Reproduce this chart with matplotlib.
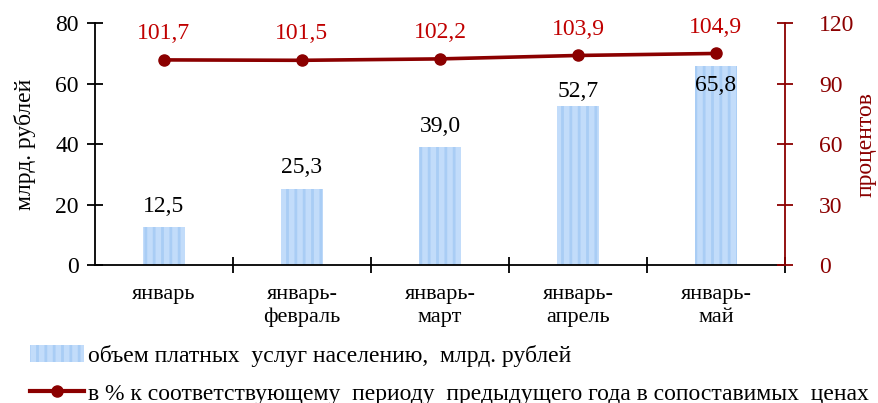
import numpy as np
import matplotlib.pyplot as plt
from matplotlib.lines import Line2D
from matplotlib.patches import Patch

plt.rcParams['font.family'] = ['Liberation Serif', 'DejaVu Serif']
plt.rcParams['hatch.linewidth'] = 2.0

# data
months = ["январь", "январь-\nфевраль", "январь-\nмарт", "январь-\nапрель", "январь-\nмай"]
volume = [12.5, 25.3, 39.0, 52.7, 65.8]
percent = [101.7, 101.5, 102.2, 103.9, 104.9]
volume_labels = ["12,5", "25,3", "39,0", "52,7", "65,8"]
percent_labels = ["101,7", "101,5", "102,2", "103,9", "104,9"]
volume_offsets = [15, 15, 15, 10, -14]   # label shift in points, as placed in the original

dark_red = '#8b0000'
label_red = '#c00000'
bar_blue = '#c2dcfa'
hatch_blue = '#a9cdf5'

fig = plt.figure(figsize=(8.79, 4.03), dpi=100)
ax = fig.add_axes([0.108, 0.342, 0.785, 0.601])
ax2 = ax.twinx()

x = np.arange(len(months))
bars = ax.bar(x, volume, width=0.31, color=bar_blue, edgecolor=hatch_blue,
              hatch='||', linewidth=0, zorder=2)

ax.set_xlim(-0.5, len(months) - 0.5)
ax.set_ylim(0, 80)
ax.set_yticks([0, 20, 40, 60, 80])
ax.set_ylabel("млрд. рублей", fontsize=17, labelpad=14)

ax.set_xticks(x + 0.5)
ax.set_xticklabels([])
ax.set_xticks(x, minor=True)
ax.set_xticklabels(months, minor=True, fontsize=16, linespacing=1.3)
ax.tick_params(axis='x', which='major', direction='inout', length=11, width=1.3)
ax.tick_params(axis='x', which='minor', length=0, pad=14)
ax.tick_params(axis='y', direction='inout', length=11, width=1.3, labelsize=17, pad=6)

for sp in ['top', 'right']:
    ax.spines[sp].set_visible(False)
ax.spines['left'].set_linewidth(1.3)
ax.spines['bottom'].set_linewidth(1.3)
ax.spines['bottom'].set_zorder(5)

for i, v in enumerate(volume):
    ax.annotate(volume_labels[i], (x[i], v), xytext=(0, volume_offsets[i]),
                textcoords='offset points', ha='center', va='center',
                fontsize=17, color='black', zorder=6)

ax2.plot(x, percent, color=dark_red, linewidth=2.6, marker='o', markersize=8, zorder=4)
ax2.set_ylim(0, 120)
ax2.set_yticks([0, 30, 60, 90, 120])
ax2.set_ylabel("процентов", fontsize=17, color=dark_red)
ax2.yaxis.set_label_coords(1.102, 0.5)
ax2.tick_params(axis='y', direction='inout', length=11, width=1.3, labelsize=17,
                colors=dark_red, pad=19)
for sp in ['top', 'left', 'bottom']:
    ax2.spines[sp].set_visible(False)
ax2.spines['right'].set_color(dark_red)
ax2.spines['right'].set_linewidth(1.3)

for i, p in enumerate(percent):
    ax2.annotate(percent_labels[i], (x[i], p), xytext=(0, 19), textcoords='offset points',
                 ha='center', va='center', fontsize=17, color=label_red)

handles = [Patch(facecolor=bar_blue, edgecolor=hatch_blue, hatch='||', linewidth=0),
           Line2D([0], [0], color=dark_red, linewidth=3, marker='o', markersize=8)]
labels = ["объем платных  услуг населению,  млрд. рублей",
          "в % к соответствующему  периоду  предыдущего года в сопоставимых  ценах"]
fig.legend(handles, labels, loc='upper left', bbox_to_anchor=(0.034, 0.145),
           frameon=False, fontsize=17, handlelength=2.3, handletextpad=0.15,
           labelspacing=0.7, borderaxespad=0, borderpad=0)

fig.savefig("out.png", dpi=100)
